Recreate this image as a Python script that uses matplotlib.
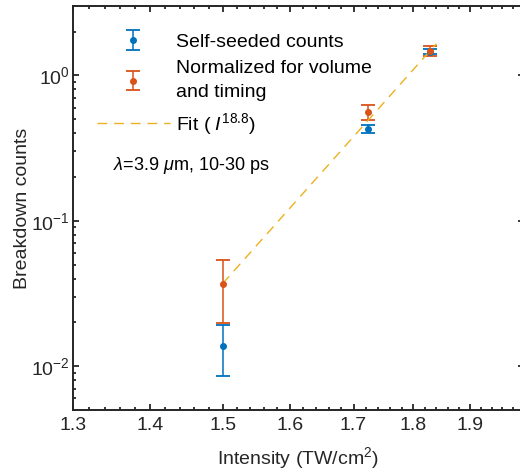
import matplotlib
matplotlib.use("Agg")
import matplotlib.pyplot as plt
from matplotlib.ticker import FixedLocator, FixedFormatter, MultipleLocator, LogLocator, NullFormatter

# --------------------------
# DATA
# --------------------------
intensity = [1.5, 1.723, 1.829]          # TW/cm^2

self_counts = [0.0137, 0.43, 1.45]
self_lo = [0.0085, 0.40, 1.40]
self_hi = [0.0191, 0.459, 1.52]

norm_counts = [0.037, 0.558, 1.47]
norm_lo = [0.0199, 0.49, 1.35]
norm_hi = [0.0538, 0.621, 1.585]

fit_x = [1.5, 1.84]
fit_y = [0.037, 1.65]

x_ticks = [1.3, 1.4, 1.5, 1.6, 1.7, 1.8, 1.9]
y_ticks = [1e-2, 1e-1, 1e0]

BLUE = "#0072BD"
ORANGE = "#D95319"
YELLOW = "#EDB120"
AXC = "#262626"

# --------------------------
# STYLE
# --------------------------
plt.rcParams["font.family"] = ["Liberation Sans", "DejaVu Sans"]
plt.rcParams["mathtext.fontset"] = "custom"
plt.rcParams["mathtext.rm"] = "Liberation Sans"
plt.rcParams["mathtext.it"] = "Liberation Sans:italic"
plt.rcParams["font.size"] = 14

fig = plt.figure(figsize=(5.2, 4.72), dpi=100)
ax = fig.add_axes([73 / 520, 62 / 472, (523.5 - 73) / 520, (410 - 6) / 472])

# --------------------------
# PLOT
# --------------------------
def asym(vals, lo, hi):
    return [[v - l for v, l in zip(vals, lo)], [h - v for v, h in zip(vals, hi)]]

h_self = ax.errorbar(intensity, self_counts, yerr=asym(self_counts, self_lo, self_hi),
                     fmt=".", color=BLUE, ms=8, elinewidth=1.1, capsize=5.3,
                     capthick=1.3, label="Self-seeded counts")
h_norm = ax.errorbar(intensity, norm_counts, yerr=asym(norm_counts, norm_lo, norm_hi),
                     fmt=".", color=ORANGE, ms=8, elinewidth=1.1, capsize=5.3,
                     capthick=1.3, label="Normalized for volume\nand timing")
h_fit, = ax.plot(fit_x, fit_y, color=YELLOW, lw=1.0, dashes=(7, 5),
                 label=r"Fit ( $I^{18.8}$)")

ax.set_xscale("log")
ax.set_yscale("log")
ax.set_xlim(1.3, 2.0)
ax.set_ylim(0.005, 3)

ax.xaxis.set_major_locator(FixedLocator(x_ticks))
ax.xaxis.set_minor_locator(MultipleLocator(0.02))
ax.xaxis.set_major_formatter(FixedFormatter([f"{t:.1f}" for t in x_ticks]))
ax.xaxis.set_minor_formatter(NullFormatter())
ax.yaxis.set_major_locator(FixedLocator(y_ticks))
ax.yaxis.set_major_formatter(FixedFormatter([r"$10^{-2}$", r"$10^{-1}$", r"$10^{0}$"]))
ax.yaxis.set_minor_locator(LogLocator(base=10, subs=range(2, 10)))
ax.yaxis.set_minor_formatter(NullFormatter())

ax.tick_params(which="both", direction="in", top=True, right=True, width=1.3, colors=AXC)
ax.tick_params(which="major", length=4)
ax.tick_params(which="minor", length=2.2)
ax.tick_params(axis="x", which="major", pad=5)
ax.tick_params(axis="y", which="major", pad=2.5)
for s in ax.spines.values():
    s.set_linewidth(1.4)
    s.set_color(AXC)

ax.set_xlabel(r"Intensity (TW/cm$^2$)", color=AXC, labelpad=8)
ax.set_ylabel("Breakdown counts", color=AXC, labelpad=0)

leg = ax.legend(handles=[h_self, h_norm, h_fit], loc="upper left",
                bbox_to_anchor=((97 - 73) / 450.5, (410 - 33) / 404),
                frameon=False, borderpad=0, borderaxespad=0, handlelength=3.75,
                handletextpad=0.3, labelspacing=0.5, fontsize=14)
for t in leg.get_texts():
    t.set_linespacing(1.55)

ax.text((113 - 73) / 450.5, (410 - 165) / 404, r"$\lambda$=3.9 $\mu$m, 10-30 ps",
        transform=ax.transAxes, fontsize=13, va="center", ha="left")

plt.savefig("out.png", dpi=100)
plt.close()
